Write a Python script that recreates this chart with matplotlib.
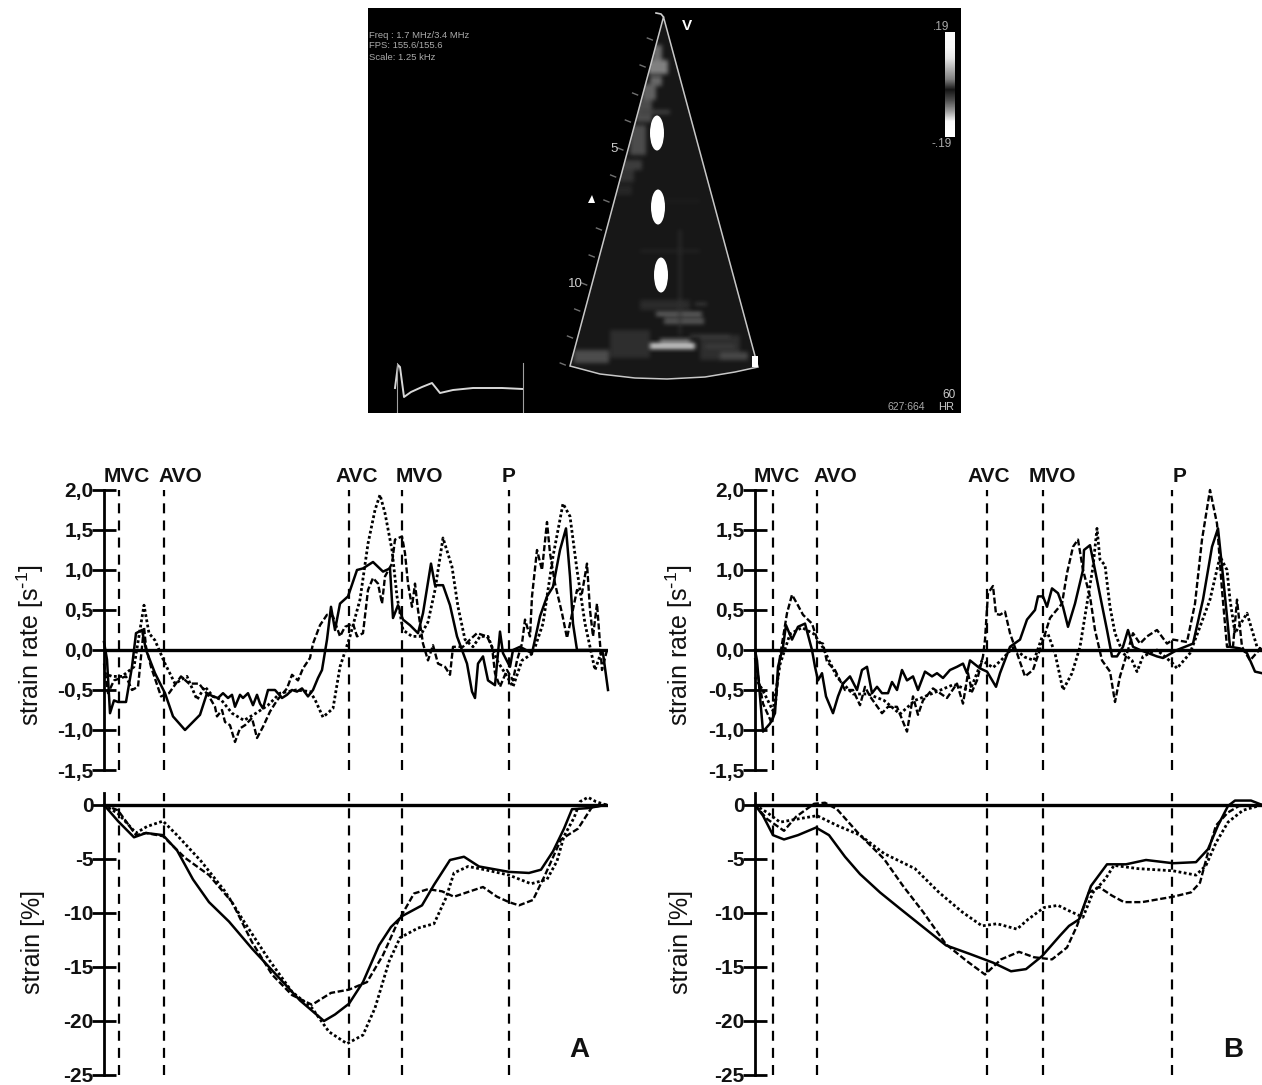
import matplotlib
matplotlib.use("Agg")
import matplotlib.pyplot as plt
import numpy as np
from matplotlib.patches import Ellipse, Polygon, Rectangle

plt.rcParams['font.family'] = ['Liberation Sans', 'DejaVu Sans']
plt.rcParams['mathtext.default'] = 'regular'

W, H = 1262, 1085

# events, time offset from the axis
events = ["MVC", "AVO", "AVC", "MVO", "P"]
a_events = [15, 60, 245, 298, 405]
b_events = [18, 62, 232, 288, 417]

sr_ticks = [-1.5, -1.0, -0.5, 0.0, 0.5, 1.0, 1.5, 2.0]
sr_labels = ["-1,5", "-1,0", "-0,5", "0,0", "0,5", "1,0", "1,5", "2,0"]
strain_ticks = [-25, -20, -15, -10, -5, 0]

# panel A strain rate
a_sr_solid_t = [0,3,6,10,14,22,28,32,38,42,51,61,69,81,96,103,109,114,119,124,128,131,136,139,144,149,153,156,159,164,171,178,183,188,193,198,204,209,214,218,223,227,231,236,244,253,259,269,279,286,289,294,299,306,314,319,327,331,339,346,353,358,363,368,371,374,379,384,391,396,399,406,409,416,428,436,443,449,456,462,466,469,473,496,499,504]
a_sr_solid = [0.10,-0.12,-0.79,-0.63,-0.65,-0.65,-0.21,0.21,0.25,0,-0.29,-0.54,-0.83,-1.0,-0.81,-0.54,-0.58,-0.60,-0.54,-0.60,-0.56,-0.71,-0.56,-0.60,-0.54,-0.69,-0.56,-0.67,-0.73,-0.50,-0.50,-0.60,-0.56,-0.50,-0.52,-0.48,-0.58,-0.50,-0.35,-0.25,0.13,0.54,0.25,0.58,0.67,1.0,1.02,1.10,0.98,1.02,0.40,0.56,0.38,0.31,0.21,0.46,1.08,0.81,0.81,0.56,0.17,0,-0.17,-0.52,-0.60,-0.17,-0.08,-0.38,-0.44,0.23,-0.04,-0.21,0,0.04,-0.04,0.42,0.67,0.79,1.25,1.52,0.92,0.33,0,0,-0.04,-0.50]
a_sr_dash_t = [0,4,10,22,28,34,40,42,47,57,65,77,85,95,105,111,113,118,121,126,131,136,141,148,153,159,166,173,183,188,194,199,206,209,216,223,229,236,241,249,253,259,264,269,274,278,281,288,291,298,301,304,308,311,314,319,324,329,334,341,346,349,359,366,373,383,388,391,396,403,409,413,418,421,426,428,433,438,443,446,451,458,463,466,473,478,483,486,489,493,498,503]
a_sr_dash = [-0.17,-0.54,-0.38,-0.33,-0.50,-0.46,0.29,0.04,-0.21,-0.58,-0.54,-0.33,-0.42,-0.42,-0.58,-0.71,-0.83,-0.75,-0.90,-0.94,-1.15,-0.98,-0.94,-0.85,-1.10,-0.96,-0.77,-0.63,-0.48,-0.31,-0.38,-0.23,-0.10,0.08,0.31,0.44,0.42,0.17,0.29,0.33,0.17,0.21,0.75,0.90,0.83,0.58,0.92,1.08,1.38,1.42,1.21,0.83,0.54,0.83,0.50,0.08,-0.13,0.06,-0.17,-0.21,-0.31,0.04,0.04,0.13,0.21,0.17,0.04,-0.29,-0.46,-0.25,-0.38,-0.13,0.08,0.38,0.17,0.67,1.25,1.0,1.60,1.21,0.83,0.46,0.15,0.33,0.75,0.71,1.08,0.50,0.17,0.58,-0.25,0]
a_sr_dot_t = [0,8,18,30,40,45,51,61,71,83,93,101,109,117,128,140,152,164,176,192,206,211,219,229,236,246,256,264,271,276,281,288,293,299,308,316,324,331,339,348,354,361,369,376,384,393,403,409,418,429,439,449,459,466,473,481,491,498]
a_sr_dot = [-0.29,-0.33,-0.33,-0.21,0.56,0.21,0.12,-0.17,-0.42,-0.33,-0.62,-0.46,-0.58,-0.62,-0.79,-0.88,-0.79,-0.69,-0.54,-0.50,-0.52,-0.62,-0.84,-0.73,-0.21,0.17,0.63,1.33,1.75,1.94,1.71,1.25,0.67,0.25,0.17,0.17,0.35,0.75,1.40,1.04,0.54,0.13,0.04,0.17,0.17,-0.13,-0.33,-0.46,-0.13,-0.04,0.33,1.17,1.83,1.67,1.0,0.33,-0.25,0]

# panel A strain
a_st_solid_t = [0,14,30,42,59,73,89,105,125,148,172,196,220,231,245,259,275,287,298,318,330,346,360,375,393,405,425,437,449,460,468,484,502]
a_st_solid = [0,-1.5,-3.0,-2.6,-2.8,-4.2,-6.9,-9.0,-10.8,-13.3,-15.7,-18.1,-20.0,-19.4,-18.4,-16.4,-13.0,-11.3,-10.3,-9.3,-7.4,-5.1,-4.8,-5.7,-6.0,-6.2,-6.3,-6.0,-4.3,-2.2,-0.4,-0.3,0]
a_st_dash_t = [0,14,32,42,59,81,105,128,148,168,188,208,227,245,263,279,294,310,324,338,350,366,379,393,405,415,429,441,457,474,488,502]
a_st_dash = [0,-0.5,-2.8,-2.6,-2.9,-4.9,-6.5,-9.0,-12.7,-15.7,-17.6,-18.5,-17.4,-17.1,-16.4,-13.9,-10.8,-8.2,-7.8,-8.0,-8.5,-8.0,-7.6,-8.5,-9.0,-9.3,-8.8,-6.5,-3.2,-2.2,-0.2,0]
a_st_dot_t = [0,14,32,43,59,73,97,121,140,164,188,208,225,243,259,271,285,296,314,330,342,350,364,381,405,427,443,453,460,470,476,484,492,502]
a_st_dot = [0,-0.8,-2.6,-2.0,-1.5,-2.8,-5.2,-8.0,-10.8,-14.2,-17.3,-18.8,-21.0,-22.1,-21.3,-18.8,-14.5,-12.3,-11.4,-11.0,-8.6,-6.3,-5.7,-6.0,-6.5,-7.3,-6.9,-5.2,-2.9,-1.2,0.3,0.7,0.3,0]

# panel B strain rate
b_sr_solid_t = [0,2,5,8,15,20,23,28,31,37,43,50,57,60,63,67,71,78,83,88,95,102,107,112,117,122,127,133,137,142,147,152,158,163,170,177,182,188,195,202,208,212,215,225,232,241,245,255,265,272,280,283,288,292,297,303,308,313,320,328,329,335,340,347,352,357,362,368,373,378,385,402,408,422,438,448,457,463,468,475,485,492,500,507]
b_sr_solid = [0,-0.13,-0.58,-1.02,-0.92,-0.79,-0.21,0.04,0.31,0.13,0.29,0.33,0,-0.21,-0.38,-0.29,-0.58,-0.79,-0.58,-0.42,-0.33,-0.50,-0.25,-0.21,-0.54,-0.46,-0.54,-0.54,-0.40,-0.50,-0.25,-0.38,-0.33,-0.50,-0.27,-0.33,-0.29,-0.35,-0.25,-0.21,-0.17,-0.29,-0.13,-0.23,-0.27,-0.46,-0.29,0.04,0.13,0.38,0.5,0.67,0.67,0.54,0.77,0.71,0.54,0.29,0.58,1.0,1.25,1.31,1.0,0.56,0.25,-0.08,-0.08,0.04,0.25,0.04,0,-0.08,-0.10,0,0.08,0.63,1.29,1.52,0.92,0.04,0.02,-0.04,-0.27,-0.29]
b_sr_dash_t = [0,2,8,17,21,25,32,37,42,48,57,63,68,72,80,85,90,98,105,110,115,127,133,142,152,158,163,168,178,192,202,208,213,217,222,228,230,233,238,241,245,250,255,262,270,278,287,295,307,312,318,323,328,335,340,347,355,360,365,372,378,385,392,402,412,418,432,440,447,455,462,467,472,478,482,487,495,507]
b_sr_dash = [-0.1,-0.25,-0.67,-0.92,-0.63,-0.08,0.46,0.69,0.58,0.44,0.33,0.10,0.08,-0.15,-0.25,-0.38,-0.50,-0.50,-0.69,-0.46,-0.58,-0.79,-0.71,-0.71,-1.02,-0.58,-0.81,-0.63,-0.48,-0.60,-0.42,-0.67,-0.29,-0.52,-0.38,-0.08,0.13,0.71,0.80,0.45,0.44,0.48,0.21,-0.04,-0.33,-0.25,0.08,0.40,0.58,0.96,1.29,1.38,1.0,0.67,0.25,-0.13,-0.27,-0.65,-0.33,-0.04,0.21,0.08,0.17,0.25,0.08,0.13,0.10,0.58,1.38,2.0,1.58,0.75,0.04,0.04,0.63,0.04,-0.13,0.04]
b_sr_dot_t = [0,8,18,25,35,47,59,68,82,98,113,129,145,160,176,199,215,227,238,246,258,270,279,287,293,300,308,317,325,332,338,342,345,350,355,360,368,377,382,388,402,418,422,435,445,455,465,472,475,480,492,502,507]
b_sr_dot = [-0.34,-0.51,-0.76,-0.18,0.20,0.28,0.20,0.03,-0.34,-0.55,-0.55,-0.63,-0.80,-0.63,-0.55,-0.43,-0.51,-0.13,-0.22,-0.13,0.03,-0.09,-0.13,0.16,0.20,-0.04,-0.50,-0.29,0.04,0.58,1.04,1.52,1.13,1.06,0.54,0.21,-0.04,-0.13,-0.27,-0.08,0,-0.17,-0.23,-0.04,0.29,0.63,1.17,1.0,0.63,0.21,0.46,0.04,0]

# panel B strain
b_st_solid_t = [0,8,18,29,43,61,74,90,105,125,145,168,191,215,238,256,271,287,305,314,324,336,352,371,391,418,441,453,463,473,480,496,507]
b_st_solid = [0,-1.0,-2.8,-3.2,-2.8,-2.1,-2.8,-4.8,-6.4,-8.1,-9.6,-11.3,-13.0,-13.8,-14.6,-15.4,-15.2,-14.0,-12.1,-11.2,-10.6,-7.5,-5.5,-5.5,-5.1,-5.4,-5.3,-4.1,-1.9,-0.1,0.4,0.4,0]
b_st_dash_t = [0,12,29,41,59,70,82,105,129,148,168,191,211,230,246,264,279,297,312,322,334,344,357,369,387,418,436,445,453,461,473,484,507]
b_st_dash = [0,-1.3,-2.4,-1.1,0.1,0.2,-0.4,-2.8,-5.0,-7.5,-9.9,-12.9,-14.4,-15.7,-14.3,-13.6,-14.1,-14.3,-13.2,-11.2,-8.1,-7.6,-8.4,-9.0,-9.0,-8.5,-8.1,-7.2,-4.4,-1.9,-0.7,-0.1,0]
b_st_dot_t = [0,12,25,43,62,82,105,129,160,184,207,227,242,262,273,289,303,314,328,338,350,359,383,418,441,451,461,473,488,507]
b_st_dot = [0,-0.7,-1.6,-1.3,-1.0,-1.9,-2.8,-4.5,-5.9,-8.1,-9.9,-11.2,-11.0,-11.5,-10.6,-9.5,-9.3,-9.8,-10.4,-8.1,-6.9,-5.6,-5.9,-6.1,-6.5,-5.6,-3.5,-1.6,-0.5,0]

# echo picture at the top, in picture pixels
fan = [(663.5, 17), (570, 366), (600, 374), (635, 378), (667, 379), (705, 377), (735, 372), (758, 367)]
hook_x, hook_y = [656, 661, 663.5], [13, 14, 17]
spots_x, spots_y = [657, 658, 661], [133, 207, 275]
echo_patches = [(652, 45, 10, 15, 0.42), (648, 60, 20, 14, 0.5), (650, 76, 12, 10, 0.4), (642, 84, 14, 16, 0.38),
                (636, 100, 16, 22, 0.3), (630, 125, 16, 30, 0.3), (622, 160, 20, 10, 0.24), (618, 170, 16, 12, 0.2),
                (612, 185, 20, 10, 0.15), (640, 110, 30, 4, 0.26),
                (656, 312, 46, 4, 0.42), (664, 318, 40, 6, 0.34), (644, 343, 51, 6, 0.8), (660, 339, 30, 3, 0.55),
                (574, 350, 35, 13, 0.3), (610, 330, 40, 28, 0.18), (700, 335, 40, 25, 0.18), (720, 352, 28, 8, 0.28),
                (640, 300, 50, 10, 0.17), (679, 230, 2, 105, 0.2), (690, 335, 40, 2, 0.3), (695, 303, 12, 2, 0.3),
                (705, 345, 30, 3, 0.25), (640, 250, 60, 2, 0.16), (650, 200, 50, 2, 0.13)]
depth_ticks = [40, 67, 95, 122, 150, 177, 202, 230, 257, 285, 311, 338, 365]
bar_grey = [[0.98], [0.97], [0.9], [0.7], [0.5], [0.08], [0.3], [0.6], [0.97], [1.0]]
ecg_x = [395, 398, 400, 404, 411, 422, 432, 440, 453, 473, 502, 523]
ecg_y = [388, 365, 367, 397, 392, 387, 383, 393, 390, 388, 388, 389]


def axes_px(left, top, right, bottom):
    return fig.add_axes([left / W, 1 - bottom / H, (right - left) / W, (bottom - top) / H])


def draw_panel(ax, sets, event_t, xmax, ylim, ticks, labels, dash_top):
    ax.set_xlim(0, xmax)
    ax.set_ylim(*ylim)
    ax.patch.set_alpha(0)
    for s in ['top', 'right', 'bottom']:
        ax.spines[s].set_visible(False)
    ax.spines['left'].set_linewidth(2.0)
    ax.set_xticks([])
    ax.set_yticks(ticks)
    ax.set_yticklabels(labels, fontsize=15, fontweight='bold', color='#111111')
    ax.tick_params(axis='y', direction='inout', length=17, width=2, pad=-1)
    ax.axhline(0, color='black', lw=2.4, zorder=3)
    for t in event_t:
        ax.plot([t, t], [ylim[0], dash_top], color='black', lw=1.6, ls=(0, (4.5, 3.2)), clip_on=False)
    t, y = sets[0]
    ax.plot(t, y, color='black', lw=1.8, clip_on=False, zorder=5)
    t, y = sets[1]
    ax.plot(t, y, color='black', lw=1.7, ls=(0, (2.6, 1.1)), clip_on=False, zorder=5)
    t, y = sets[2]
    ax.plot(t, y, color='black', lw=2.0, ls=(0, (1, 0.9)), clip_on=False, zorder=5)


fig = plt.figure(figsize=(W / 100, H / 100), dpi=100, facecolor='white')

# top picture
ax = axes_px(368, 8, 961, 413)
ax.set_facecolor('black')
ax.set_xticks([])
ax.set_yticks([])
for s in ax.spines.values():
    s.set_visible(False)
sector = Polygon(fan, closed=True, facecolor='none', edgecolor='#c8c8c8', lw=1.1, zorder=3)
ax.add_patch(sector)
# grey speckle, softened a bit like the scan
echo = np.full((405, 593), 0.09)
for x, y, w, h, g in echo_patches:
    echo[y - 8:y - 8 + h, x - 368:x - 368 + w] = g
kernel = np.ones(5) / 5
for i in range(2):
    echo = np.apply_along_axis(np.convolve, 0, echo, kernel, mode='same')
    echo = np.apply_along_axis(np.convolve, 1, echo, kernel, mode='same')
im = ax.imshow(echo, cmap='gray', vmin=0, vmax=1, extent=(368, 961, 413, 8), aspect='auto', zorder=1)
im.set_clip_path(sector)
ax.plot(hook_x, hook_y, color='#d0d0d0', lw=1.2)
for x, y in zip(spots_x, spots_y):
    ax.add_patch(Ellipse((x, y), 14, 35, facecolor='white', edgecolor='none', zorder=4))
for y in depth_ticks:
    edge = 663.5 - (y - 17) * 0.268
    ax.plot([edge - 10, edge - 5], [y - 2, y], color='#707070', lw=1)
ax.add_patch(Rectangle((752, 356), 6, 11, facecolor='white', edgecolor='none', zorder=4))
ax.add_patch(Polygon([(592, 195), (588, 203), (595, 203)], closed=True, facecolor='white', edgecolor='none'))
ax.imshow(bar_grey, cmap='gray', vmin=0, vmax=1, extent=(945, 955, 137, 32), aspect='auto', interpolation='bilinear')
ax.set_xlim(368, 961)
ax.set_ylim(413, 8)
ax.plot(ecg_x, ecg_y, color='#d8d8d8', lw=1.4)
ax.plot([397, 397], [363, 413], color='#a0a0a0', lw=0.8)
ax.plot([523, 523], [363, 413], color='#a0a0a0', lw=0.8)
ax.text(369, 35, "Freq : 1.7 MHz/3.4 MHz", color='#aaaaaa', fontsize=6.8, va='center', clip_on=True)
ax.text(369, 46, "FPS: 155.6/155.6", color='#aaaaaa', fontsize=6.8, va='center', clip_on=True)
ax.text(369, 58, "Scale: 1.25 kHz", color='#aaaaaa', fontsize=6.8, va='center', clip_on=True)
ax.text(687, 26, "V", color='white', fontsize=11, fontweight='bold', ha='center', va='center')
ax.text(941, 27, ".19", color='#aaaaaa', fontsize=8.5, ha='center', va='center')
ax.text(942, 144, "-.19", color='#aaaaaa', fontsize=8.5, ha='center', va='center')
ax.text(614, 149, "5", color='#cccccc', fontsize=9.5, ha='center', va='center')
ax.text(575, 284, "10", color='#cccccc', fontsize=9.5, ha='center', va='center')
ax.text(949, 395, "60", color='#cccccc', fontsize=8.5, ha='center', va='center')
ax.text(887, 407, "627:664", color='#aaaaaa', fontsize=7.5, va='center')
ax.text(938, 407, "HR", color='#cccccc', fontsize=8, va='center')

# panel A
ax_a1 = axes_px(104, 490, 608, 770)
draw_panel(ax_a1, [(a_sr_solid_t, a_sr_solid), (a_sr_dash_t, a_sr_dash), (a_sr_dot_t, a_sr_dot)],
           a_events, 504, (-1.5, 2.0), sr_ticks, sr_labels, 2.0)
ax_a2 = axes_px(104, 793, 608, 1075)
draw_panel(ax_a2, [(a_st_solid_t, a_st_solid), (a_st_dash_t, a_st_dash), (a_st_dot_t, a_st_dot)],
           a_events, 504, (-25, 1.1), strain_ticks, [str(v) for v in strain_ticks], 1.1)

# panel B
ax_b1 = axes_px(755, 490, 1262, 770)
draw_panel(ax_b1, [(b_sr_solid_t, b_sr_solid), (b_sr_dash_t, b_sr_dash), (b_sr_dot_t, b_sr_dot)],
           b_events, 507, (-1.5, 2.0), sr_ticks, sr_labels, 2.0)
ax_b2 = axes_px(755, 793, 1262, 1075)
draw_panel(ax_b2, [(b_st_solid_t, b_st_solid), (b_st_dash_t, b_st_dash), (b_st_dot_t, b_st_dot)],
           b_events, 507, (-25, 1.1), strain_ticks, [str(v) for v in strain_ticks], 1.1)

# event names
for name, x in zip(events, [127, 180, 356.5, 419, 509]):
    fig.text(x / W, 1 - 476 / H, name, fontsize=15, fontweight='bold', ha='center', va='center', color='#111111')
for name, x in zip(events, [777, 835, 989, 1052, 1180]):
    fig.text(x / W, 1 - 476 / H, name, fontsize=15, fontweight='bold', ha='center', va='center', color='#111111')

# axis titles
for x, y, txt in [(30, 645, "strain rate [s$^{\\text{-}1}$]"), (679, 645, "strain rate [s$^{\\text{-}1}$]")]:
    fig.text(x / W, 1 - y / H, txt, rotation=90, fontsize=18, ha='center', va='center', color='#111111')
for x, y, txt in [(33, 942, "strain [%]"), (681, 942, "strain [%]")]:
    fig.text(x / W, 1 - y / H, txt, rotation=90, fontsize=18, ha='center', va='center', color='#111111')

fig.text(579 / W, 1 - 1050 / H, "A", fontsize=20, fontweight='bold', ha='center', va='center', color='#111111')
fig.text(1233 / W, 1 - 1050 / H, "B", fontsize=20, fontweight='bold', ha='center', va='center', color='#111111')

fig.savefig("out.png", dpi=100)
